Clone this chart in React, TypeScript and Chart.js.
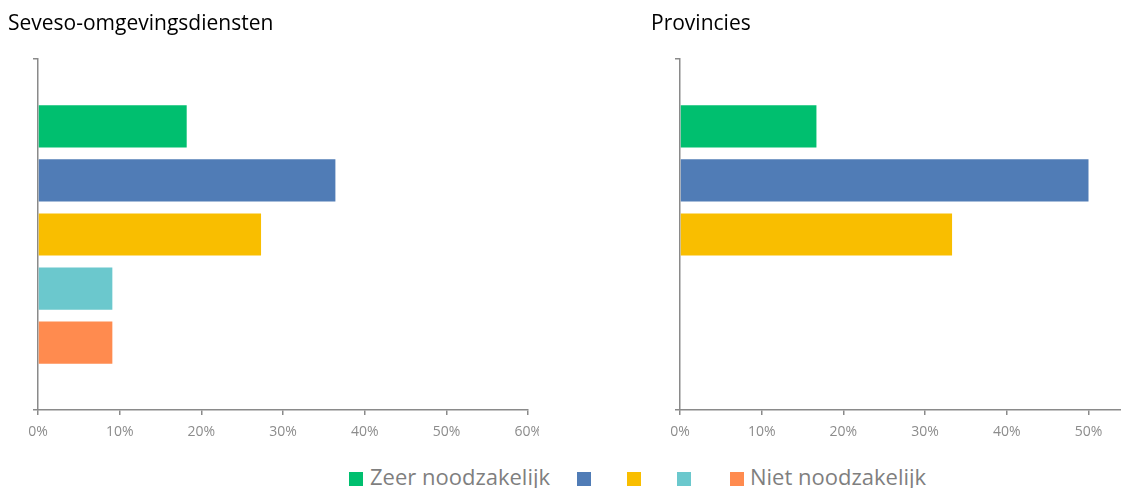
import React, { useEffect, useRef } from "react";
import { Chart, registerables } from "chart.js";

Chart.register(...registerables);

const seriesLabels = ["Zeer noodzakelijk", "", "", "", "Niet noodzakelijk"];
const seriesColors = ["#00BF6F", "#507CB6", "#F9BE00", "#6BC8CD", "#FF8B4F"];
const sevesoValues = [18.2, 36.4, 27.3, 9.1, 9.1];
const provinciesValues = [16.7, 50.0, 33.3, 0, 0];
const categories = [""];
const axisMax = 60;
const axisStep = 10;

const AXIS = "#8a8a8a";
const TICK_TEXT = "#8c8c8c";
const FONT = "'Open Sans', sans-serif";

function makeConfig(values: number[], yWidth: number, xHeight: number, padTop: number, padRight: number): any {
  return {
    type: "bar",
    data: {
      labels: categories,
      datasets: values.map((v, i) => ({
        label: seriesLabels[i],
        data: [v],
        backgroundColor: seriesColors[i],
        borderWidth: 0,
        categoryPercentage: 0.77,
        barPercentage: 0.78,
      })),
    },
    options: {
      indexAxis: "y",
      animation: false,
      responsive: false,
      maintainAspectRatio: false,
      layout: { padding: { top: padTop, right: padRight, left: 0, bottom: 0 } },
      plugins: { legend: { display: false }, tooltip: { enabled: false }, title: { display: false } },
      scales: {
        x: {
          type: "linear",
          min: 0,
          max: axisMax,
          ticks: {
            stepSize: axisStep,
            padding: 9,
            color: TICK_TEXT,
            font: { family: FONT, size: 14 },
            callback: (v: any) => v + "%",
            maxRotation: 0,
          },
          grid: { display: true, drawOnChartArea: false, drawTicks: true, tickLength: 5, color: AXIS, lineWidth: 1.5 },
          border: { display: true, color: AXIS, width: 1.5 },
          afterFit: (s: any) => { s.height = xHeight; },
        },
        y: {
          type: "category",
          offset: true,
          ticks: { display: false },
          grid: { display: true, offset: true, drawOnChartArea: false, drawTicks: true, tickLength: 5, color: AXIS, lineWidth: 1.5 },
          border: { display: true, color: AXIS, width: 1.5 },
          afterFit: (s: any) => { s.width = yWidth; },
        },
      },
    },
  };
}

function BarPanel(props: { values: number[]; left: number; clipWidth: number; canvasWidth: number; yWidth: number }) {
  const ref = useRef<HTMLCanvasElement | null>(null);
  useEffect(() => {
    if (!ref.current) return;
    const chart = new Chart(ref.current, makeConfig(props.values, props.yWidth, 40, 59, 20));
    return () => chart.destroy();
  }, []);
  return (
    <div style={{ position: "absolute", left: props.left, top: 0, width: props.clipWidth, height: 450, overflow: "hidden" }}>
      <canvas ref={ref} width={props.canvasWidth} height={450} style={{ width: props.canvasWidth, height: 450, display: "block" }} />
    </div>
  );
}

const legendPositions = [
  { sq: 349, tx: 370 },
  { sq: 577, tx: 598 },
  { sq: 627, tx: 648 },
  { sq: 677, tx: 698 },
  { sq: 730, tx: 750 },
];

export default function App() {
  return (
    <div style={{ position: "fixed", left: 0, top: 0, width: 1121, height: 488, overflow: "hidden", background: "#fff", fontFamily: FONT }}>
      <BarPanel values={sevesoValues} left={0} clipWidth={539} canvasWidth={551} yWidth={38} />
      <BarPanel values={provinciesValues} left={640} clipWidth={481} canvasWidth={553} yWidth={40} />
      <div style={{ position: "absolute", left: 8, top: 12, fontSize: 21, lineHeight: "21px", color: "#000", whiteSpace: "nowrap" }}>Seveso-omgevingsdiensten</div>
      <div style={{ position: "absolute", left: 651, top: 12, fontSize: 21, lineHeight: "21px", color: "#000", whiteSpace: "nowrap" }}>Provincies</div>
      {seriesLabels.map((lab, i) => (
        <React.Fragment key={i}>
          <div style={{ position: "absolute", left: legendPositions[i].sq, top: 472, width: 14, height: 14, background: seriesColors[i] }} />
          {lab ? (
            <div style={{ position: "absolute", left: legendPositions[i].tx, top: 465, fontSize: 22, lineHeight: "22px", color: "#7f7f7f", whiteSpace: "nowrap" }}>{lab}</div>
          ) : null}
        </React.Fragment>
      ))}
    </div>
  );
}
